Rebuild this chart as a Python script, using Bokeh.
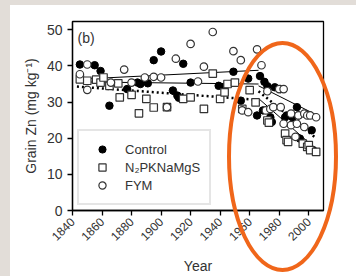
import numpy as np
from bokeh.plotting import figure
from bokeh.layouts import column
from bokeh.models import Range1d, FixedTicker, Label, Div
from bokeh.embed import file_html
from bokeh.resources import INLINE

# ---- data ----
control_year = [1845, 1855, 1859, 1865, 1877, 1884, 1886, 1891, 1895, 1900, 1908, 1911, 1912,
                1915, 1920, 1939, 1943, 1949, 1954, 1959, 1965, 1967, 1969, 1970, 1972, 1974,
                1975, 1977, 1981, 1984, 1985, 1989, 1992, 1993, 1994, 2002, 2003]
control_zn = [40.4, 40.2, 38.6, 29.0, 33.6, 35.4, 35.0, 35.2, 41.6, 44.0, 33.2, 31.8, 31.2,
              40.6, 35.4, 34.5, 34.2, 38.4, 30.4, 36.5, 26.3, 37.2, 27.7, 35.6, 34.4, 25.8,
              24.5, 34.1, 33.6, 25.8, 26.3, 25.8, 28.6, 26.3, 19.9, 22.2, 16.7]

npk_year = [1845, 1850, 1856, 1859, 1861, 1865, 1871, 1872, 1880, 1885, 1890, 1895, 1904,
            1915, 1920, 1929, 1935, 1940, 1943, 1945, 1950, 1955, 1960, 1964, 1972, 1973,
            1984, 1985, 1986, 1996, 1999, 2000, 2001, 2005]
npk_zn = [36.3, 35.9, 36.2, 35.4, 36.8, 34.5, 35.2, 31.3, 32.0, 26.9, 30.9, 28.5, 28.6,
          30.9, 31.3, 28.1, 37.9, 30.9, 32.7, 35.0, 35.4, 28.1, 33.3, 29.9, 24.9, 24.3,
          21.3, 19.5, 19.0, 18.5, 17.6, 18.1, 16.7, 16.2]

fym_year = [1845, 1850, 1850, 1866, 1875, 1880, 1889, 1895, 1900, 1904, 1910, 1920, 1925,
            1929, 1935, 1949, 1954, 1955, 1959, 1965, 1968, 1971, 1972, 1974, 1976, 1980,
            1981, 1983, 1983, 1988, 1988, 1991, 1992, 1993, 1997, 1997, 1999, 2001, 2005]
fym_zn = [37.7, 40.4, 33.4, 35.4, 39.0, 35.4, 36.8, 37.0, 36.8, 28.6, 42.0, 46.1, 35.7,
          39.8, 49.4, 44.1, 41.6, 27.7, 27.2, 44.6, 40.2, 27.7, 33.0, 28.1, 28.6, 33.6,
          28.6, 33.6, 24.0, 26.8, 23.6, 20.4, 24.0, 26.3, 26.8, 23.1, 26.3, 26.3, 25.8]

# fitted trend segments (before / after the break)
fym_fit_pre_year, fym_fit_pre = [1843, 1966], [36.3, 38.8]
fym_fit_post_year, fym_fit_post = [1966, 2005], [34.5, 26.5]
npk_fit_pre_year, npk_fit_pre = [1843, 1966], [35.6, 35.0]
npk_fit_post_year, npk_fit_post = [1966, 2005], [31.0, 17.0]
ctl_fit_pre_year, ctl_fit_pre = [1843, 1966], [34.3, 30.6]
ctl_fit_post_year, ctl_fit_post = [1966, 2005], [33.0, 20.0]

x_ticks = [1840, 1860, 1880, 1900, 1920, 1940, 1960, 1980, 2000]
y_ticks = [0, 10, 20, 30, 40, 50]

FONT = "Liberation Sans"
TXT = "#333333"
W, H = 356, 276

p = figure(width=W, height=H, output_backend="svg", toolbar_location=None,
           x_range=Range1d(1840, 2010), y_range=Range1d(0, 52.3),
           min_border_left=72, min_border_right=33, min_border_top=21, min_border_bottom=65)
p.background_fill_color = "white"
p.border_fill_color = "white"
p.outline_line_color = "black"
p.outline_line_width = 1.3
p.grid.visible = False

for ax in (p.xaxis[0], p.yaxis[0]):
    ax.axis_line_color = "black"
    ax.axis_line_width = 1.3
    ax.major_tick_line_color = "black"
    ax.major_tick_line_width = 1.3
    ax.major_tick_in = 0
    ax.major_tick_out = 5
    ax.minor_tick_line_color = None
    ax.major_label_text_font = FONT
    ax.major_label_text_font_size = "14px"
    ax.major_label_text_color = TXT
    ax.axis_label_text_font = FONT
    ax.axis_label_text_font_size = "14px"
    ax.axis_label_text_font_style = "normal"
    ax.axis_label_text_color = TXT

p.xaxis.ticker = FixedTicker(ticks=x_ticks)
p.yaxis.ticker = FixedTicker(ticks=y_ticks)
p.xaxis.major_label_orientation = np.pi / 4
p.xaxis.major_label_text_font_size = "12px"
p.xaxis.axis_label = "Year"
p.xaxis.axis_label_standoff = 10
p.xaxis.major_label_standoff = 4
p.yaxis.axis_label = "Grain Zn (mg kg\u207b\u00b9)"
p.yaxis.axis_label_standoff = 5
p.yaxis.major_label_standoff = 5

# trend lines
p.line(fym_fit_pre_year, fym_fit_pre, line_color="black", line_width=1)
p.line(fym_fit_post_year, fym_fit_post, line_color="black", line_width=1)
p.line(npk_fit_pre_year, npk_fit_pre, line_color="black", line_width=1)
p.line(npk_fit_post_year, npk_fit_post, line_color="black", line_width=1)
p.line(ctl_fit_pre_year, ctl_fit_pre, line_color="black", line_width=2.5, line_dash="2 3")
p.line(ctl_fit_post_year, ctl_fit_post, line_color="black", line_width=2.5, line_dash="2 3")

# points
p.scatter(control_year, control_zn, marker="circle", size=7.5, fill_color="black",
          line_color="black", legend_label="Control")
p.scatter(npk_year, npk_zn, marker="square", size=7.5, fill_color="white",
          line_color="#333333", line_width=1.2, legend_label="N\u2082PKNaMgS")
p.scatter(fym_year, fym_zn, marker="circle", size=7.5, fill_color="white",
          line_color="#333333", line_width=1.2, legend_label="FYM")

p.add_layout(Label(x=1843.4, y=50.0, text="(b)", text_baseline="top", text_align="left",
                   text_font=FONT, text_font_size="14px", text_color=TXT))

lg = p.legend[0]
lg.location = "bottom_left"
lg.margin = 5
lg.padding = 9
lg.spacing = 0
lg.glyph_width = 28
lg.glyph_height = 18
lg.label_height = 18
lg.label_standoff = 9
lg.border_line_color = "#cccccc"
lg.border_line_width = 2
lg.label_text_font = FONT
lg.label_text_font_size = "13px"
lg.label_text_color = TXT
lg.background_fill_color = "white"
lg.background_fill_alpha = 1

# hand-drawn highlight overlay (page pixels) + grey page edge
overlay_svg = (
    f'<svg xmlns="http://www.w3.org/2000/svg" width="{W}" height="{H}" '
    f'style="display:block">'
    f'<rect x="0" y="0" width="10" height="{H}" fill="#e2ddd8"/>'
    f'<rect x="0" y="0" width="{W}" height="5" fill="#e2ddd8"/>'
    f'<ellipse cx="282.5" cy="156.5" rx="53.5" ry="113.5" fill="none" '
    f'stroke="#f0661a" stroke-width="4"/>'
    f'</svg>'
)
ov = Div(text=overlay_svg, width=W, height=H,
         styles={"position": "absolute", "left": "0px", "top": "0px",
                 "pointer-events": "none", "margin": "0px", "padding": "0px"})

layout = column(p, ov)
open("out.html", "w").write(file_html(layout, INLINE))
